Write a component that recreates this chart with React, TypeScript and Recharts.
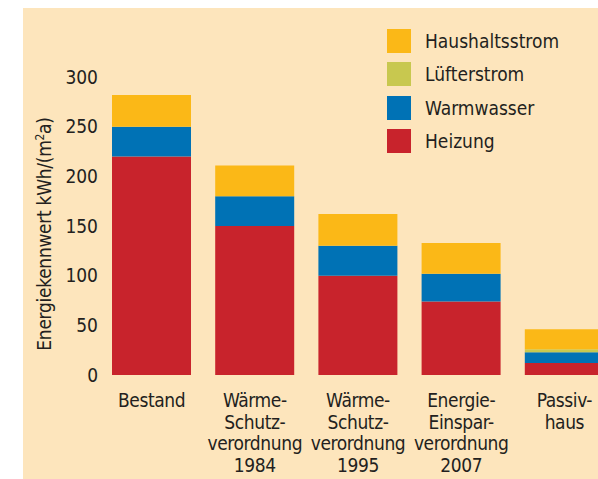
import React from "react";
import { BarChart, Bar, XAxis, YAxis } from "recharts";

const categories = [
  "Bestand",
  "Wärme-\nSchutz-\nverordnung\n1984",
  "Wärme-\nSchutz-\nverordnung\n1995",
  "Energie-\nEinspar-\nverordnung\n2007",
  "Passiv-\nhaus",
];
const heizung = [220, 150, 100, 74, 12];
const warmwasser = [30, 30, 30, 28, 11];
const luefterstrom = [0, 0, 0, 0, 3];
const haushaltsstrom = [32, 31, 32, 31, 20];
const yTicks = [0, 50, 100, 150, 200, 250, 300];

// legend, top to bottom
const legendNames = ["Haushaltsstrom", "Lüfterstrom", "Warmwasser", "Heizung"];
const legendColors = ["#fbb817", "#c8c84f", "#0072b5", "#c8232c"];

const data = categories.map((name, i) => ({
  name,
  heizung: heizung[i],
  warmwasser: warmwasser[i],
  luefterstrom: luefterstrom[i],
  haushaltsstrom: haushaltsstrom[i],
}));

const FONT = "'DejaVu Sans Condensed', 'DejaVu Sans', sans-serif";
const INK = "#231f20";

function CategoryTick(props: any) {
  const { x, y, payload } = props;
  const lines = String(payload.value).split("\n");
  return (
    <text x={x} y={y} textAnchor="middle" fill={INK} fontFamily={FONT} fontSize={19} letterSpacing={-0.4}>
      {lines.map((l: string, i: number) => (
        <tspan key={i} x={x} dy={i === 0 ? 24 : 21.5}>
          {l}
        </tspan>
      ))}
    </text>
  );
}

function YLabel() {
  return (
    <text
      x={0}
      y={0}
      transform="translate(51,234) rotate(-90)"
      textAnchor="middle"
      fill={INK}
      fontFamily={FONT}
      fontSize={19}
      letterSpacing={-0.3}
    >
      Energiekennwert kWh/(m
      <tspan dy={-7} fontSize={12}>2</tspan>
      <tspan dy={7}>a)</tspan>
    </text>
  );
}

export default function App() {
  return (
    <div style={{ position: "absolute", left: 0, top: 0, width: 598, height: 479, overflow: "hidden", background: "#fff" }}>
      <div style={{ position: "absolute", left: 23, top: 8, right: 0, bottom: 0, background: "#fde5bc" }} />
      <div style={{ position: "absolute", left: 0, top: 0 }}>
        <BarChart width={616} height={479} data={data} margin={{ top: 77, right: 0, bottom: 0, left: 0 }}>
          <XAxis
            dataKey="name"
            axisLine={false}
            tickLine={false}
            height={104}
            interval={0}
            tick={<CategoryTick />}
          />
          <YAxis
            width={100}
            domain={[0, 300]}
            ticks={yTicks}
            axisLine={false}
            tickLine={false}
            tickSize={0}
            tickMargin={2}
            tick={{ fill: INK, fontFamily: FONT, fontSize: 19 }}
            label={<YLabel />}
          />
          <Bar dataKey="heizung" name="Heizung" stackId="a" fill="#c8232c" barSize={79} isAnimationActive={false} />
          <Bar dataKey="warmwasser" name="Warmwasser" stackId="a" fill="#0072b5" barSize={79} isAnimationActive={false} />
          <Bar dataKey="luefterstrom" name="Lüfterstrom" stackId="a" fill="#c8c84f" barSize={79} isAnimationActive={false} />
          <Bar dataKey="haushaltsstrom" name="Haushaltsstrom" stackId="a" fill="#fbb817" barSize={79} isAnimationActive={false} />
        </BarChart>
      </div>
      <div style={{ position: "absolute", left: 387, top: 29, fontFamily: FONT, fontSize: 19, color: INK }}>
        {legendNames.map((n, i) => (
          <div key={n} style={{ display: "flex", alignItems: "center", height: 24, marginBottom: 9.3 }}>
            <div style={{ width: 24, height: 24, background: legendColors[i], marginRight: 14 }} />
            <span>{n}</span>
          </div>
        ))}
      </div>
    </div>
  );
}
